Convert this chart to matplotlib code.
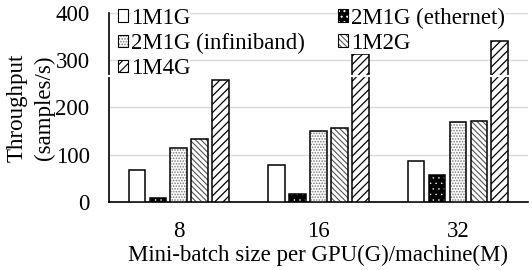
import matplotlib
matplotlib.use('Agg')
import matplotlib.pyplot as plt
from matplotlib.patches import Patch
from matplotlib.legend_handler import HandlerTuple
import numpy as np

# ── Data ──────────────────────────────────────────────────────────────────────
batch_sizes = ['8', '16', '32']
v_1m1g = [68, 79, 86]
v_2m1g_eth = [8, 16, 57]
v_2m1g_ib = [113, 149, 170]
v_1m2g = [134, 157, 172]
v_1m4g = [258, 313, 341]

# ── Style ─────────────────────────────────────────────────────────────────────
plt.rcParams['font.family'] = ['Liberation Serif', 'DejaVu Serif']
plt.rcParams['font.size'] = 16.5
plt.rcParams['hatch.linewidth'] = 0.8

# (face, hatch colour, hatch, hatch width) for each series
styles = {
    '1M1G':              ('white', 'white', None, 0.8),
    '2M1G (ethernet)':   ('black', 'white', '...', 0.3),
    '2M1G (infiniband)': ('white', '#7a7a7a', '......', 0.8),
    '1M2G':              ('white', '#555555', '\\\\\\\\\\\\', 0.8),
    '1M4G':              ('white', 'black', '////', 0.9),
}
values = {
    '1M1G': v_1m1g,
    '2M1G (ethernet)': v_2m1g_eth,
    '2M1G (infiniband)': v_2m1g_ib,
    '1M2G': v_1m2g,
    '1M4G': v_1m4g,
}


def hatch_width(p, hlw):
    # per-patch hatch line width where the API allows it
    if hasattr(p, 'set_hatch_linewidth'):
        p.set_hatch_linewidth(hlw)
    else:
        p._hatch_linewidth = hlw


fig = plt.figure(figsize=(5.32, 2.70), dpi=100)
ax = fig.add_axes([0.205, 0.252, 0.787, 0.701])

x = np.arange(len(batch_sizes))
w = 0.12
step = 0.15

for i, (name, vals) in enumerate(values.items()):
    face, hc, hatch, hlw = styles[name]
    pos = x + (i - 2) * step
    bars = ax.bar(pos, vals, w, facecolor=face, edgecolor=hc, hatch=hatch, lw=0, zorder=3)
    for b in bars:
        hatch_width(b, hlw)
    ax.bar(pos, vals, w, fill=False, edgecolor='black', lw=1.1, zorder=4)

ax.set_xlim(-0.5, 2.5)
ax.set_ylim(0, 400)
ax.set_yticks([0, 100, 200, 300, 400])
ax.set_xticks(x)
ax.set_xticklabels(batch_sizes)
ax.tick_params(axis='both', length=0)
ax.tick_params(axis='x', pad=14)
ax.tick_params(axis='y', pad=14)

ax.grid(axis='y', color='#d9d9d9', lw=1, zorder=0)
for s in ['top', 'right']:
    ax.spines[s].set_visible(False)
ax.spines['left'].set_linewidth(1.2)
ax.spines['bottom'].set_linewidth(1.2)

ax.set_ylabel('Throughput\n(samples/s)', linespacing=1.4, labelpad=0)
ax.set_xlabel('Mini-batch size per GPU(G)/machine(M)', labelpad=2)

# thin white seam under the legend area, as in the source export
ax.axhline(266, color='white', lw=1.5, zorder=6, clip_on=False,
           xmin=-0.003, xmax=1)

# ── Legend (column-major order so rows read left to right) ─────────────────────
order = ['1M1G', '2M1G (infiniband)', '1M4G', '2M1G (ethernet)', '1M2G']
handles = []
for k in order:
    face, hc, hatch, hlw = styles[k]
    p = Patch(facecolor=face, edgecolor=hc, hatch=hatch, lw=0)
    hatch_width(p, hlw)
    handles.append((p, Patch(fill=False, edgecolor='black', lw=0.8)))
leg = ax.legend(handles, order, ncol=2, loc='upper left',
                handler_map={tuple: HandlerTuple(ndivide=1)},
                bbox_to_anchor=(-0.012, 1.1), frameon=False,
                handlelength=0.45, handleheight=0.45, handletextpad=0.12,
                labelspacing=0.18, columnspacing=1.45, borderaxespad=0.2)
leg.set_zorder(7)
for t in leg.get_texts():
    t.set_bbox(dict(facecolor='white', edgecolor='none', pad=0))

fig.savefig('out.png', dpi=100)
